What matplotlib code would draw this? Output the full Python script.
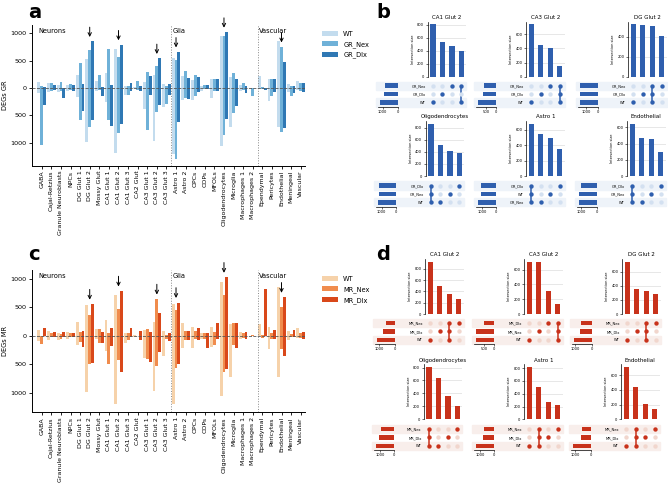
import matplotlib
matplotlib.use('Agg')
import matplotlib.pyplot as plt
from matplotlib.ticker import MaxNLocator
import numpy as np

W, H = 668, 488

cell_types = ['GABA', 'Cajal-Retzius', 'Granule Neuroblasts', 'NPCs', 'DG Glut 1', 'DG Glut 2',
              'Mossy Glut', 'CA1 Glut 1', 'CA1 Glut 2', 'CA1 Glut 3', 'CA2 Glut', 'CA3 Glut 1',
              'CA3 Glut 2', 'CA3 Glut 3', 'Astro 1', 'Astro 2', 'OPCs', 'COPs', 'MFOLs',
              'Oligodendrocytes', 'Microglia', 'Macrophages 1', 'Macrophages 2', 'Ependymal',
              'Pericytes', 'Endothelial', 'Meningeal', 'Vascular']
sections = ['Neurons', 'Glia', 'Vascular']
section_starts = [0, 14, 23]
arrow_types = ['DG Glut 2', 'CA1 Glut 2', 'CA3 Glut 2', 'Astro 1', 'Oligodendrocytes', 'Endothelial']

# up / down DEG counts (down drawn below zero)
wt_up = [100, 90, 50, 60, 240, 530, 120, 270, 710, 40, 20, 100, 240, 80, 550, 220, 150, 40, 160, 940, 200, 60, 0, 210, 160, 850, 80, 130]
wt_down = [100, 70, 80, 60, 170, 980, 60, 260, 1190, 130, 20, 390, 970, 350, 1200, 220, 220, 50, 190, 1060, 720, 60, 0, 10, 230, 720, 80, 40]

gr_nex_up = [30, 95, 115, 70, 450, 700, 240, 710, 570, 40, 130, 290, 410, 40, 510, 310, 240, 50, 170, 950, 270, 90, 0, 10, 160, 750, 40, 90]
gr_nex_down = [1040, 60, 60, 40, 580, 720, 40, 580, 830, 130, 30, 770, 440, 290, 1290, 190, 150, 20, 60, 860, 460, 40, 140, 20, 140, 800, 140, 60]
gr_dlx_up = [20, 60, 5, 50, 80, 850, 20, 50, 790, 90, 40, 210, 540, 80, 660, 180, 200, 50, 160, 1020, 170, 40, 0, 0, 160, 480, 40, 90]
gr_dlx_down = [320, 40, 175, 50, 420, 580, 140, 700, 660, 60, 50, 120, 310, 120, 630, 200, 70, 20, 50, 570, 330, 100, 0, 30, 80, 740, 100, 80]

mr_nex_up = [0, 50, 30, 40, 70, 360, 110, 40, 460, 40, 0, 110, 640, 20, 450, 80, 80, 40, 70, 720, 230, 40, 5, 20, 40, 500, 30, 40]
mr_nex_down = [140, 30, 50, 30, 110, 490, 120, 500, 420, 80, 0, 410, 530, 50, 560, 70, 60, 50, 160, 630, 170, 40, 0, 40, 50, 230, 30, 40]
mr_dlx_up = [130, 60, 60, 40, 80, 550, 60, 140, 780, 140, 80, 60, 390, 50, 580, 80, 130, 50, 220, 1020, 230, 60, 0, 820, 100, 670, 100, 60]
mr_dlx_down = [0, 30, 30, 30, 190, 470, 120, 180, 630, 30, 70, 460, 280, 100, 490, 70, 80, 210, 60, 580, 220, 50, 0, 0, 60, 350, 30, 50]

blues = ['#c3dcee', '#6fb1d8', '#2f78b4']
oranges = ['#f6d2aa', '#f08c4d', '#d9481a']

# upset data, panel b (GR)
b_titles = ['CA1 Glut 2', 'CA3 Glut 2', 'DG Glut 2', 'Oligodendrocytes', 'Astro 1', 'Endothelial']
b_rows = [['GR_Nex', 'GR_Dlx', 'WT'], ['GR_Nex', 'GR_Dlx', 'WT'], ['GR_Nex', 'GR_Dlx', 'WT'],
          ['GR_Dlx', 'GR_Nex', 'WT'], ['GR_Dlx', 'WT', 'GR_Nex'], ['GR_Dlx', 'GR_Nex', 'WT']]
b_totals = [[870, 930, 1200], [590, 640, 930], [1450, 1480, 1500],
            [1180, 1180, 1300], [1080, 1080, 1300], [1000, 1170, 1170]]
b_sizes = [[810, 530, 470, 405], [740, 450, 410, 150], [525, 515, 505, 405],
           [870, 520, 415, 385], [680, 550, 495, 355], [645, 470, 460, 290]]
b_members = [[['WT'], ['GR_Dlx'], ['GR_Nex'], ['GR_Nex', 'WT']],
             [['WT'], ['GR_Dlx'], ['GR_Nex'], ['GR_Nex', 'GR_Dlx', 'WT']],
             [['WT'], ['GR_Dlx'], ['GR_Nex', 'GR_Dlx', 'WT'], ['GR_Nex']],
             [['GR_Dlx', 'GR_Nex', 'WT'], ['WT'], ['GR_Nex'], ['GR_Dlx']],
             [['GR_Dlx', 'WT', 'GR_Nex'], ['GR_Nex'], ['WT'], ['GR_Dlx']],
             [['GR_Dlx', 'GR_Nex', 'WT'], ['WT'], ['GR_Nex'], ['GR_Dlx']]]

# upset data, panel d (MR)
d_titles = b_titles
d_rows = [['MR_Nex', 'MR_Dlx', 'WT'], ['MR_Dlx', 'MR_Nex', 'WT'], ['MR_Nex', 'MR_Dlx', 'WT'],
          ['MR_Nex', 'MR_Dlx', 'WT'], ['MR_Nex', 'MR_Dlx', 'WT'], ['MR_Nex', 'MR_Dlx', 'WT']]
d_totals = [[550, 745, 1140], [500, 950, 950], [650, 730, 1100],
            [900, 1100, 1340], [710, 760, 1310], [600, 640, 1170]]
d_sizes = [[930, 500, 350, 270], [710, 710, 310, 130], [740, 360, 325, 285],
           [810, 640, 360, 200], [820, 500, 270, 220], [710, 440, 205, 135]]
d_members = [[['WT'], ['MR_Dlx'], ['MR_Nex', 'MR_Dlx', 'WT'], ['MR_Nex']],
             [['WT'], ['MR_Nex'], ['MR_Dlx'], ['MR_Dlx', 'MR_Nex', 'WT']],
             [['WT'], ['MR_Dlx'], ['MR_Nex', 'MR_Dlx', 'WT'], ['MR_Nex']],
             [['MR_Nex', 'MR_Dlx', 'WT'], ['WT'], ['MR_Dlx'], ['MR_Nex']],
             [['WT'], ['MR_Nex', 'MR_Dlx', 'WT'], ['MR_Dlx'], ['MR_Nex']],
             [['WT'], ['MR_Nex', 'MR_Dlx', 'WT'], ['MR_Dlx'], ['MR_Nex']]]


def px(left, top, width, height):
    return [left / W, 1 - (top + height) / H, width / W, height / H]


fig = plt.figure(figsize=(W / 100, H / 100), dpi=100)


def deg_panel(rect, up_lists, down_lists, labels, colors, ylabel, ylim):
    ax = fig.add_axes(rect)
    x = np.arange(len(cell_types))
    offs = [-0.3, 0, 0.3]
    for k in range(3):
        ax.bar(x + offs[k], up_lists[k], width=0.3, color=colors[k], label=labels[k], zorder=2)
        ax.bar(x + offs[k], -np.array(down_lists[k]), width=0.3, color=colors[k], zorder=2)
    ax.axhline(0, color='#555555', ls='--', lw=0.6, zorder=3)
    for s in section_starts[1:]:
        ax.axvline(s - 0.5, color='#888888', ls=':', lw=0.7)
    for name, s in zip(sections, section_starts):
        ax.text(s - 0.35, 0.955, name, transform=ax.get_xaxis_transform(), fontsize=4.8, va='center')
    for t in arrow_types:
        i = cell_types.index(t)
        tip = max(up_lists[1][i], up_lists[2][i]) + 80
        ax.annotate('', xy=(i, tip), xytext=(i, tip + 180),
                    arrowprops=dict(arrowstyle='->', color='black', lw=0.7, mutation_scale=6,
                                    shrinkA=0, shrinkB=0),
                    annotation_clip=False)
    ax.set_xlim(-1.05, 27.45)
    ax.set_ylim(*ylim)
    ax.set_xticks(x)
    ax.set_xticklabels(cell_types, rotation=90, fontsize=4.5)
    ax.set_yticks([-1000, -500, 0, 500, 1000])
    ax.set_yticklabels(['1000', '500', '0', '500', '1000'], fontsize=4.6)
    ax.tick_params(length=2, width=0.6, pad=1.5)
    ax.set_ylabel(ylabel, fontsize=4.8, labelpad=2)
    for sp in ['top', 'right']:
        ax.spines[sp].set_visible(False)
    for sp in ['left', 'bottom']:
        ax.spines[sp].set_linewidth(0.7)
    ax.legend(loc='upper left', bbox_to_anchor=(1.04, 1.0), frameon=False, fontsize=4.8,
              handlelength=2.4, handleheight=0.8, labelspacing=0.6)
    return ax


deg_panel(px(31.7, 25, 273.3, 140.7), [wt_up, gr_nex_up, gr_dlx_up], [wt_down, gr_nex_down, gr_dlx_down],
          ['WT', 'GR_Nex', 'GR_Dlx'], blues, 'DEGs GR', (-1420, 1150))
deg_panel(px(31.7, 270, 273.3, 142.3), [wt_up, mr_nex_up, mr_dlx_up], [wt_down, mr_nex_down, mr_dlx_down],
          ['WT', 'MR_Nex', 'MR_Dlx'], oranges, 'DEGs MR', (-1340, 1150))


def upset(left, int_bottom, mat_top, title, rows, totals, sizes, members, color, light, stripe):
    mw, ih, mh = 38.5, 55, 25
    ax_i = fig.add_axes(px(left, int_bottom - ih, mw, ih))
    xs = np.arange(len(sizes))
    ax_i.bar(xs, sizes, width=0.55, color=color, zorder=2)
    ax_i.set_xlim(-0.55, 3.5)
    ax_i.set_ylim(0, max(sizes) * 1.05)
    ax_i.yaxis.set_major_locator(MaxNLocator(5, steps=[1, 2, 5, 10]))
    ax_i.grid(axis='y', color='#dddddd', lw=0.5, zorder=0)
    ax_i.set_xticks([])
    ax_i.tick_params(axis='y', labelsize=2.6, length=1.5, width=0.4, pad=1)
    ax_i.set_ylabel('Intersection size', fontsize=2.5, labelpad=1.5)
    for sp in ['top', 'right', 'bottom']:
        ax_i.spines[sp].set_visible(False)
    ax_i.spines['left'].set_linewidth(0.5)
    ax_i.set_title(title, fontsize=4, pad=2)

    ax_m = fig.add_axes(px(left, mat_top, mw, mh))
    ax_m.set_xlim(-0.55, 3.5)
    ax_m.set_ylim(2.5, -0.5)
    for r in [0, 2]:
        ax_m.axhspan(r - 0.5, r + 0.5, xmin=-1.35, xmax=1.0, color=stripe, zorder=0, clip_on=False)
    for c, mem in enumerate(members):
        ys = [rows.index(m) for m in mem]
        for r in range(len(rows)):
            ax_m.scatter(c, r, s=10, color=color if r in ys else light, zorder=2, lw=0)
        if len(ys) > 1:
            ax_m.plot([c, c], [min(ys), max(ys)], color=color, lw=1.1, zorder=1)
    ax_m.set_yticks(range(len(rows)))
    ax_m.set_yticklabels(rows, fontsize=2.6)
    ax_m.set_xticks([])
    ax_m.tick_params(length=0, pad=1.5)
    for sp in ax_m.spines.values():
        sp.set_visible(False)

    ax_t = fig.add_axes(px(left - 50, mat_top, 20, mh))
    ax_t.barh(range(len(rows)), totals, height=0.55, color=color, zorder=2)
    ax_t.set_ylim(2.5, -0.5)
    ax_t.set_xlim(max(totals) * 1.1, 0)
    step = 500 if max(totals) < 1000 else 1000
    ax_t.set_xticks([step, 0])
    ax_t.set_yticks([])
    ax_t.tick_params(axis='x', labelsize=2.6, length=1.5, width=0.4, pad=1)
    for sp in ['top', 'right', 'left']:
        ax_t.spines[sp].set_visible(False)
    ax_t.spines['bottom'].set_linewidth(0.5)
    ax_t.patch.set_alpha(0)


b_left = [[427.7, 526, 628], [425.7, 526, 627]]
b_int_bottom = [76.7, 176]
b_mat_top = [81.5, 181.5]
d_left = [[425, 524, 622], [423.7, 524, 621]]
d_int_bottom = [314, 419.3]
d_mat_top = [319, 425]

for k in range(6):
    r, c = divmod(k, 3)
    upset(b_left[r][c], b_int_bottom[r], b_mat_top[r], b_titles[k], b_rows[k], b_totals[k],
          b_sizes[k], b_members[k], '#2f5fae', '#d3e0f0', '#eef3f9')
    upset(d_left[r][c], d_int_bottom[r], d_mat_top[r], d_titles[k], d_rows[k], d_totals[k],
          d_sizes[k], d_members[k], '#c8321b', '#f1d6cd', '#f8eeeb')

for letter, (lx, ly) in zip('abcd', [(28, 12), (376, 12), (28, 254), (376, 254)]):
    fig.text(lx / W, 1 - ly / H, letter, fontsize=14, fontweight='bold', va='center')

fig.savefig('out.png', dpi=100)
